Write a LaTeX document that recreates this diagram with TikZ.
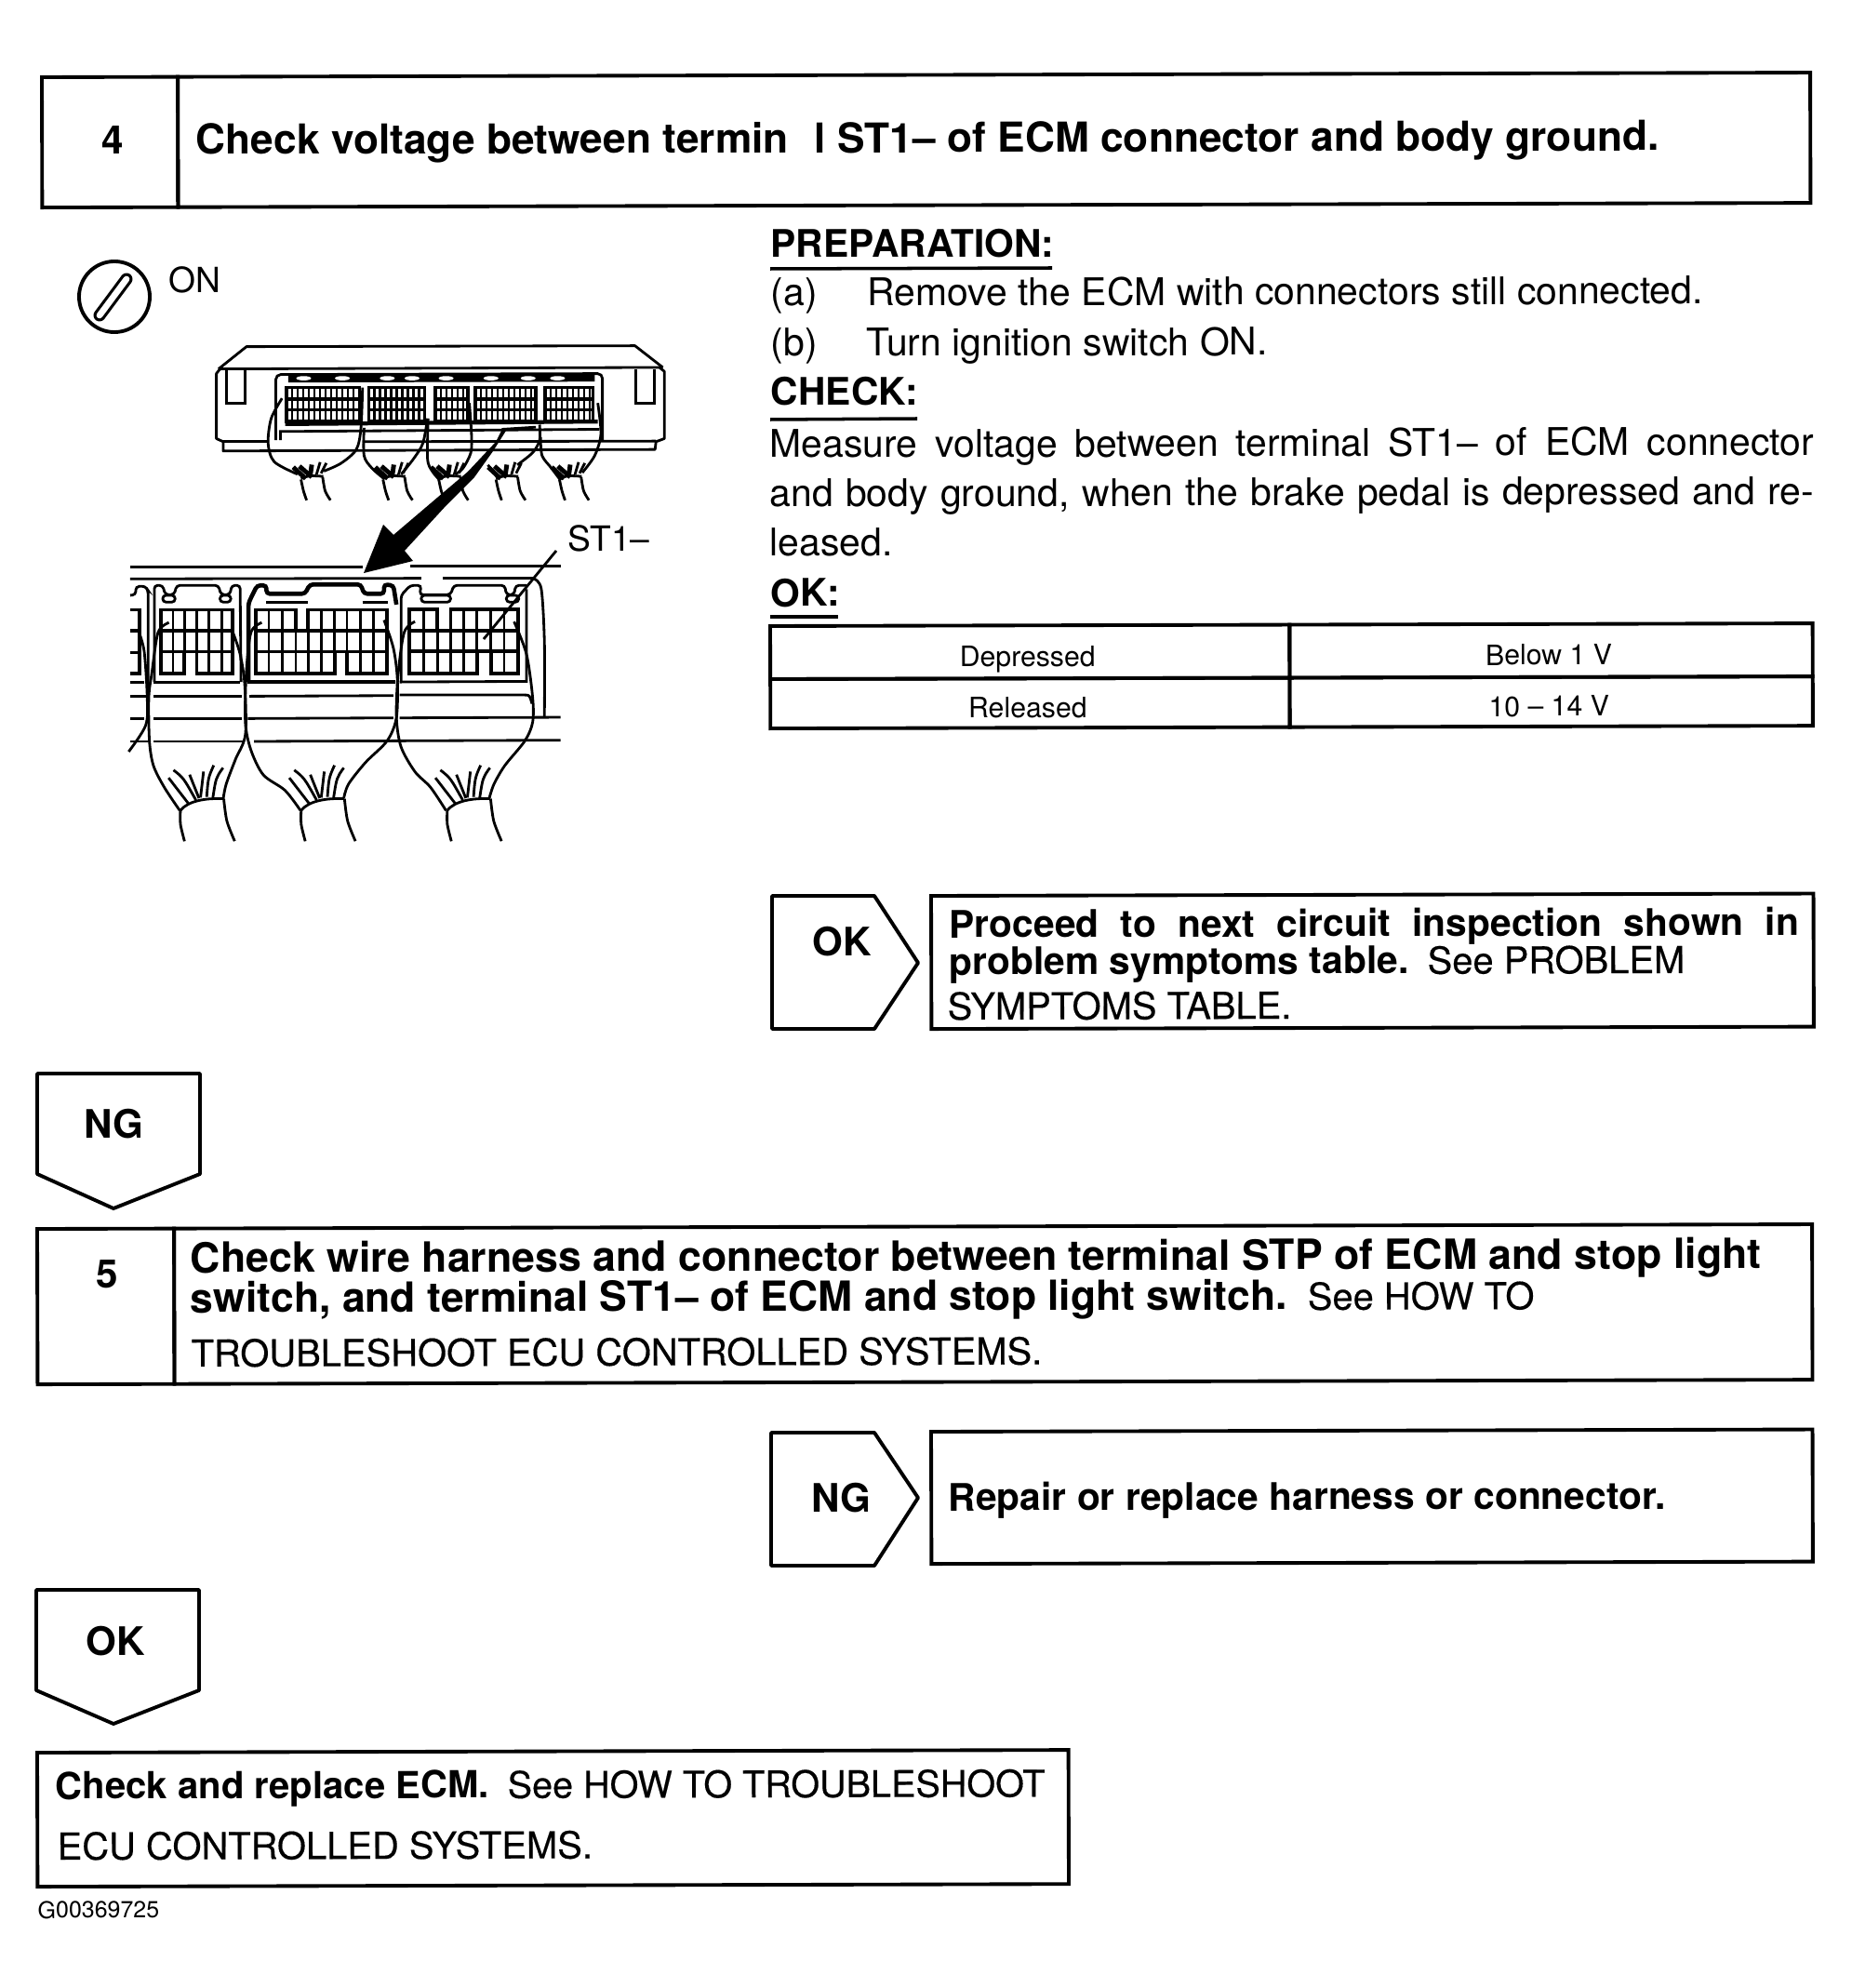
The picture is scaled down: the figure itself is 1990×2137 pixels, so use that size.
\documentclass[tikz,border=0pt]{standalone}
\usepackage{fontspec}
\setmainfont{TeX Gyre Heros}
\newfontfamily\seefamily[FakeBold=0.35]{TeX Gyre Heros}
\usetikzlibrary{positioning}
\newcommand{\headfont}{\fontsize{12.6}{15}\selectfont\bfseries}
\newcommand{\subfont}{\fontsize{11.6}{15}\selectfont\bfseries}
\newcommand{\bodyfont}{\fontsize{11.65}{15}\selectfont}
\newcommand{\labelfont}{\fontsize{10.6}{15}\selectfont}
\newcommand{\seefont}{\fontsize{11.35}{15}\selectfont\mdseries\seefamily}
\tikzset{
  numcell/.style={draw,line width=1.1pt,inner sep=0pt,outer sep=0pt,anchor=north west},
  stepcell/.style={draw,line width=1.1pt,inner sep=0pt,outer sep=0pt},
  tabcell/.style={draw,line width=1.1pt,inner sep=0pt,outer sep=0pt,text height=0.31cm,text depth=0pt,font=\fontsize{8.6}{10}\selectfont},
  headtext/.style={anchor=base west,inner sep=0pt,font=\headfont},
  subtext/.style={anchor=base west,inner sep=0pt,font=\subfont},
  bodytext/.style={anchor=base west,inner sep=0pt,font=\bodyfont},
  labeltext/.style={anchor=base west,inner sep=0pt,font=\labelfont},
  seetext/.style={anchor=base west,inner sep=0pt,font=\seefont},
  numtext/.style={anchor=base,inner sep=0pt,font=\fontsize{12}{15}\selectfont\bfseries},
  tagline/.style={line width=1.1pt,line join=round},
  wire/.style={line width=0.8pt},
  pinline/.style={line width=0.7pt},
  neckfan/.pic={
    \draw[wire] (190,845) .. controls (215,815) and (270,805) .. (330,808);
    \draw[wire] plot[smooth] coordinates {(190,845) (190,890) (203,945)};
    \draw[wire] plot[smooth] coordinates {(330,808) (340,880) (365,945)};
    \draw[wire] (152,740) -- (215,822);
    \draw[wire] (168,715) .. controls (200,740) .. (240,812);
    \draw[wire] (220,730) -- (250,806);
    \draw[wire] (265,720) -- (255,804);
    \draw[wire] (298,700) .. controls (280,740) .. (275,802);
    \draw[wire] (328,708) .. controls (305,740) .. (295,804);
  },
  tinyfan/.pic={
    \draw[line width=1.4pt] (285,428) -- (325,465);
    \draw[line width=1.4pt] (305,425) -- (345,460);
    \draw[line width=1.4pt] (345,420) -- (340,455);
    \draw[wire] (372,412) -- (360,452);
    \draw[wire] (392,415) -- (375,448);
    \draw[wire] (310,465) .. controls (335,455) .. (382,458);
    \draw[wire] plot[smooth] coordinates {(310,468) (318,505) (328,535)};
    \draw[wire] plot[smooth] coordinates {(380,460) (388,505) (405,535)};
  }
}
\begin{document}
\begin{tikzpicture}[x=0.01cm,y=-0.01cm,every node/.style={rotate=0.15}]
  \useasboundingbox (0,0) rectangle (1990,2137);

  % Step 4
  \node[numcell,minimum width=1.46cm,minimum height=1.4cm] (numfour) at (45,83) {};
  \node[stepcell,right=0pt of numfour,minimum width=17.54cm,minimum height=1.4cm] (stepfour) {};
  \node[numtext] (labfour) at (121,165) {4};
  \node[headtext] (headfour) at (210,166) {Check voltage between termin\hspace{0.28cm}l ST1– of ECM connector and body ground.};

  % Left side: key symbol
  \node[circle,draw,line width=1.1pt,minimum size=0.76cm,inner sep=0pt] (keysw) at (123,319) {};
  \draw[line width=0.9pt,double=white,double distance=1.9pt,line cap=round] (136,300) -- (107,339);
  \node[labeltext] (keyon) at (181,315) {ON};
  \node[labeltext] (termst) at (610,593) {ST1–};
  \coordinate (leadtop) at (598,592);
  \coordinate (leadend) at (520,687);
  \draw[wire] (leadtop) -- (leadend);

  % Right side: preparation and check
  \node[subtext] (prep) at (828,277) {PREPARATION:};
  \draw[line width=1pt] (828,289) -- (1131,288);
  \node[bodytext] (stepa) at (828,329) {(a)};
  \node[bodytext] (stepatxt) at (932,329) {Remove the ECM with connectors still connected.};
  \node[bodytext] (stepb) at (828,383) {(b)};
  \node[bodytext] (stepbtxt) at (931,383) {Turn ignition switch ON.};
  \node[subtext] (check) at (828,436) {CHECK:};
  \draw[line width=1pt] (828,451) -- (986,450);
  \node[bodytext] (measure) at (827,492) {\makebox[11.22cm][s]{Measure voltage between terminal ST1– of ECM connector}};
  \node[bodytext] (measuretwo) at (827,545) {\makebox[11.22cm][s]{and body ground, when the brake pedal is depressed and re-}};
  \node[bodytext] (measurethree) at (827,598) {leased.};
  \node[subtext] (okhead) at (828,652) {OK:};
  \draw[line width=1.2pt] (828,663) -- (901,663);

  \node[tabcell,anchor=north west,minimum width=5.58cm,minimum height=0.57cm] (depr) at (828,673) {\hspace{-0.05cm}Depressed};
  \node[tabcell,right=0pt of depr,minimum width=5.62cm,minimum height=0.57cm] (below) {\hspace{-0.05cm}Below 1 V};
  \node[tabcell,below=0pt of depr,minimum width=5.58cm,minimum height=0.53cm] (rel) {\hspace{-0.05cm}Released};
  \node[tabcell,below=0pt of below,minimum width=5.62cm,minimum height=0.53cm] (volt) {\hspace{-0.05cm}10 – 14 V};

  % OK branch of step 4
  \draw[tagline] (830,963) -- (940,963) -- (987,1035) -- (940,1106) -- (830,1106) -- cycle;
  \node[numtext] (tagok) at (905,1027) {OK};
  \node[numcell,minimum width=9.48cm,minimum height=1.43cm] (nextbox) at (1001,963) {};
  \node[subtext] (nextone) at (1020,1008) {\makebox[9.13cm][s]{Proceed to next circuit inspection shown in}};
  \node[subtext] (nexttwo) at (1020,1048) {problem symptoms table.\hspace{0.2cm}{\seefont See PROBLEM}};
  \node[seetext] (nextthree) at (1018,1096) {SYMPTOMS TABLE.};

  % NG branch of step 4
  \draw[tagline] (40,1154) -- (215,1154) -- (215,1262) -- (122,1299) -- (40,1262) -- cycle;
  \node[numtext] (tagng) at (122,1223) {NG};

  % Step 5
  \node[numcell,minimum width=1.47cm,minimum height=1.67cm] (numfive) at (40,1321) {};
  \node[stepcell,right=0pt of numfive,minimum width=17.6cm,minimum height=1.67cm] (stepfive) {};
  \node[numtext] (labfive) at (115,1384) {5};
  \node[headtext,font=\fontsize{12.72}{15}\selectfont\bfseries] (headfive) at (204,1368) {Check wire harness and connector between terminal STP of ECM and stop light};
  \node[headtext,font=\fontsize{12.66}{15}\selectfont\bfseries] (headfivetwo) at (204,1411) {switch, and terminal ST1– of ECM and stop light switch.\hspace{0.22cm}{\seefont See HOW TO}};
  \node[seetext] (headfivethree) at (205,1469) {TROUBLESHOOT ECU CONTROLLED SYSTEMS.};

  \draw[tagline] (829,1540) -- (940,1540) -- (987,1610) -- (940,1683) -- (829,1683) -- cycle;
  \node[numtext] (tagngtwo) at (904,1625) {NG};
  \node[numcell,minimum width=9.47cm,minimum height=1.42cm] (repairbox) at (1001,1539) {};
  \node[subtext] (repair) at (1019,1624) {Repair or replace harness or connector.};

  \draw[tagline] (39,1709) -- (214,1709) -- (214,1817) -- (122,1853) -- (39,1817) -- cycle;
  \node[numtext] (tagoktwo) at (124,1779) {OK};
  \node[numcell,minimum width=11.08cm,minimum height=1.44cm] (ecmbox) at (40,1884) {};
  \node[subtext,font=\fontsize{11.4}{15}\selectfont\bfseries] (ecmone) at (59,1934) {Check and replace ECM.\hspace{0.2cm}{\fontsize{11.25}{15}\selectfont\mdseries\seefamily See HOW TO TROUBLESHOOT}};
  \node[seetext] (ecmtwo) at (61,1999) {ECU CONTROLLED SYSTEMS.};
  \node[anchor=base west,inner sep=0pt,font=\fontsize{7.1}{8}\selectfont] (figno) at (40,2062) {G00369725};

  % ECM seen from the connector side
  \begin{scope}[shift={(220,360)},x=0.003333cm,y=-0.003333cm]
    \draw[wire,line join=round] (45,110) -- (135,38) -- (1390,35) -- (1480,105);
    \draw[wire] (45,110) -- (1480,105);
    \draw[wire,line join=round] (48,112) -- (38,125) -- (38,335) -- (60,345) -- (60,375) -- (1455,370) -- (1458,345) -- (1485,335) -- (1485,118) -- (1470,106);
    \draw[wire] (60,343) -- (200,343);
    \draw[wire] (510,345) -- (1458,343);
    \draw[wire] (70,112) -- (70,222) -- (130,222) -- (130,112);
    \draw[wire] (1392,110) -- (1392,220) -- (1452,220) -- (1452,110);
    \draw[wire,rounded corners=1.5pt] (230,340) -- (230,128) -- (1285,125) -- (1285,340);
    \draw[wire] (245,340) -- (245,312) -- (1275,305);
    \draw[line width=1.2pt] (260,288) -- (1270,280);
    \draw[line width=2.6pt] (270,140) -- (1260,137);
    \foreach \ex in {320,445,590,670,780,925,1045,1140}
      \fill[white] (\ex,140) ellipse (24 and 7);
    \foreach \xa/\xb in {265/500,530/710,745/850,875/1070,1100/1255}{
      \draw[line width=1pt] (\xa,170) rectangle (\xb,280);
      \pgfmathtruncatemacro{\cnt}{(\xb-\xa)/18}
      \foreach \k in {0,...,\cnt}
        \draw[pinline] ({\xa+\k*18},172) -- ({\xa+\k*18},278);
      \draw[line width=1pt] (\xa,207) -- (\xb,207);
      \draw[line width=1pt] (\xa,242) -- (\xb,242);
    }
    \draw[wire] plot[smooth] coordinates {(250,205) (215,270) (205,350) (225,410) (300,450)};
    \draw[wire] plot[smooth] coordinates {(510,170) (505,300) (490,370) (440,415) (385,440)};
    \draw[wire] plot[smooth] coordinates {(515,300) (515,390) (540,430) (580,465)};
    \draw[wire] plot[smooth] coordinates {(720,270) (705,350) (675,400) (635,450)};
    \draw[wire] plot[smooth] coordinates {(722,270) (720,400) (735,440) (760,470)};
    \draw[wire] plot[smooth] coordinates {(855,220) (862,320) (860,380) (835,430) (810,450)};
    \draw[wire] plot[smooth] coordinates {(1082,290) (1082,340) (1060,380) (1010,420)};
    \draw[wire] (915,420) -- (950,465);
    \draw[wire] plot[smooth] coordinates {(1085,330) (1090,390) (1120,430) (1150,470)};
    \draw[wire] plot[smooth] coordinates {(1270,220) (1280,320) (1260,390) (1220,445)};
    \pic at (0,0) {tinyfan};
    \pic at (265,0) {tinyfan};
    \pic at (445,0) {tinyfan};
    \pic at (630,0) {tinyfan};
    \pic at (835,0) {tinyfan};
    \draw[wire] (960,305) -- (1070,298);
  \end{scope}

  % Thick arrow
  \fill (412,564) -- (391,616) -- (444,603) -- (435,592) -- (480,543) -- (510,513) -- (530,485) -- (544,463) -- (540,461) -- (533,475) -- (503,507) -- (470,535) -- (423,575) -- cycle;

  % Enlarged connectors
  \begin{scope}[shift={(130,590)},x=0.003333cm,y=-0.003333cm]
    \draw[wire] (30,58) -- (780,58);
    \draw[wire] (935,55) -- (1420,55);
    \draw[wire] (30,97) -- (970,95);
    \draw[wire] (1040,95) -- (1330,95);
    \draw[wire] (30,432) -- (75,432);
    \draw[wire] (105,432) -- (385,432);
    \draw[line width=1.3pt] (410,430) -- (885,430);
    \draw[wire] (900,430) -- (1310,428) -- (1310,130);
    \draw[wire] (30,476) -- (80,476);
    \draw[wire] (105,476) -- (390,476);
    \draw[wire] (415,476) -- (880,474);
    \draw[wire] (900,472) -- (1305,472) .. controls (1320,472) .. (1328,500);
    \draw[wire] (30,548) -- (75,548);
    \draw[wire] (105,548) -- (390,548);
    \draw[wire] (410,548) -- (880,546);
    \draw[wire] (900,546) -- (1420,544);
    \draw[wire] (30,622) -- (90,622);
    \draw[wire] (105,622) -- (395,622);
    \draw[wire] (430,622) -- (1420,618);
    \draw[wire] plot[smooth] coordinates {(1335,97) (1358,130) (1368,300) (1368,545)};
    % tabs along the top of each connector
    \draw[wire,rounded corners=1pt] (30,150) -- (48,148) -- (48,122) -- (78,120) -- (88,135) -- (88,480);
    \draw[wire,rounded corners=1pt] (108,430) -- (108,118) -- (135,118) -- (143,148) -- (172,148) -- (180,118) -- (315,118) -- (323,148) -- (352,148) -- (358,118) -- (385,118) -- (388,430);
    \draw[wire,rounded corners=1pt] (135,150) rectangle (175,172);
    \draw[wire,rounded corners=1pt] (320,150) rectangle (355,172);
    \draw[line width=1.3pt,rounded corners=1pt] (412,430) -- (412,175) -- (440,118) -- (470,118) -- (470,145) -- (595,145) -- (610,115) -- (775,115) -- (785,145) -- (850,145) -- (850,115) -- (880,118) -- (890,180);
    \draw[wire] (470,172) -- (605,172);
    \draw[wire] (780,172) -- (862,172);
    \draw[wire,rounded corners=1pt] (905,430) -- (905,150) -- (935,118) -- (970,118) -- (965,148) -- (1065,148) -- (1075,118) -- (1240,118) -- (1245,148) -- (1270,148) -- (1275,118) -- (1310,118);
    \draw[wire,rounded corners=1pt] (970,150) rectangle (1065,172);
    \draw[wire,rounded corners=1pt] (1245,150) rectangle (1285,172);
    % terminal blocks
    \draw[line width=1.1pt] (30,197) -- (60,197) -- (60,403) -- (30,403);
    \draw[line width=1.1pt] (30,265) -- (60,265);
    \draw[line width=1.1pt] (30,335) -- (60,335);
    \draw[line width=1.1pt] (130,197) -- (360,197) -- (360,403) -- (245,403) -- (245,332) -- (205,332) -- (205,403) -- (130,403) -- cycle;
    \draw[line width=1.1pt] (130,265) -- (360,265);
    \draw[line width=1.1pt] (130,332) -- (360,332);
    \foreach \vx in {168,285,325}
      \draw[wire] (\vx,197) -- (\vx,403);
    \draw[wire] (205,197) -- (205,332);
    \draw[wire] (245,197) -- (245,332);
    \draw[line width=1.1pt] (435,197) -- (565,197) -- (565,265) -- (605,265) -- (605,197) -- (860,197) -- (860,403) -- (730,403) -- (730,332) -- (690,332) -- (690,403) -- (435,403) -- cycle;
    \draw[line width=1.1pt] (435,265) -- (860,265);
    \draw[line width=1.1pt] (435,332) -- (860,332);
    \foreach \vx in {478,522,648,773,817}
      \draw[wire] (\vx,197) -- (\vx,403);
    \draw[wire] (565,265) -- (565,403);
    \draw[wire] (605,265) -- (605,403);
    \draw[wire] (690,197) -- (690,332);
    \draw[wire] (730,197) -- (730,332);
    \draw[line width=1.1pt] (932,195) -- (1022,195) -- (1022,265) -- (1065,265) -- (1065,195) -- (1282,195) -- (1282,403) -- (1195,403) -- (1195,330) -- (1150,330) -- (1150,403) -- (932,403) -- cycle;
    \draw[line width=1.1pt] (932,265) -- (1282,265);
    \draw[line width=1.1pt] (932,330) -- (1282,330);
    \foreach \vx in {977,1108,1238}
      \draw[wire] (\vx,195) -- (\vx,403);
    \draw[wire] (1022,265) -- (1022,403);
    \draw[wire] (1065,265) -- (1065,403);
    \draw[wire] (1150,195) -- (1150,330);
    \draw[wire] (1195,195) -- (1195,330);
    % harness outlines
    \draw[wire] plot[smooth] coordinates {(55,260) (75,330) (85,480) (80,570) (25,655)};
    \draw[wire] plot[smooth] coordinates {(155,238) (120,270) (100,400) (90,480) (92,620) (105,700) (140,770) (190,845)};
    \draw[wire] plot[smooth] coordinates {(360,265) (385,340) (400,440) (402,600) (370,680) (340,760) (330,810)};
    \draw[wire] plot[smooth] coordinates {(455,238) (420,270) (405,400) (402,560) (420,650) (460,730) (530,780) (580,845)};
    \draw[wire] plot[smooth] coordinates {(850,230) (880,320) (893,420) (890,545) (860,620) (790,690) (735,760) (720,805)};
    \draw[wire] plot[smooth] coordinates {(950,235) (915,270) (895,410) (890,545) (905,640) (950,720) (1000,770) (1050,845)};
    \draw[wire] plot[smooth] coordinates {(1270,235) (1310,340) (1330,480) (1330,560) (1305,620) (1240,700) (1205,760) (1190,805)};
    \pic at (0,0) {neckfan};
    \pic at (390,0) {neckfan};
    \pic at (862,0) {neckfan};
  \end{scope}
\end{tikzpicture}
\end{document}
